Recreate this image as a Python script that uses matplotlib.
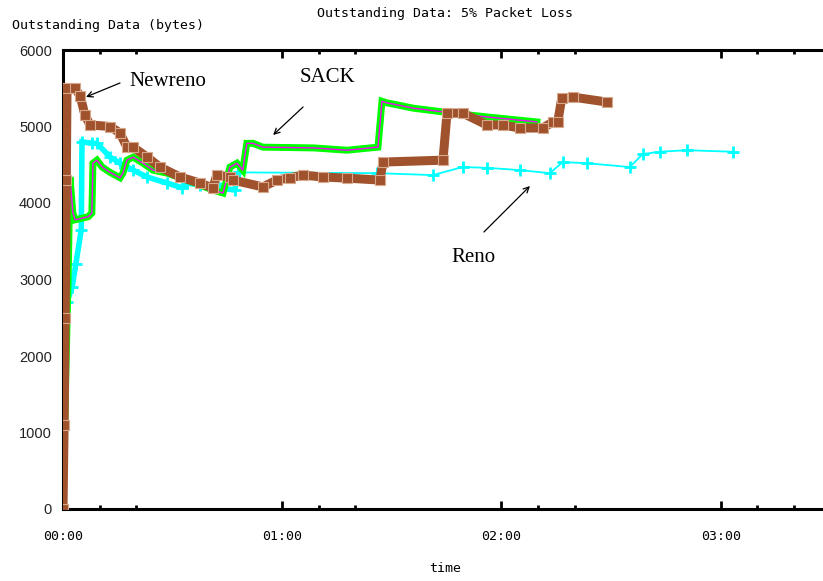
import matplotlib
matplotlib.use("Agg")
import matplotlib.pyplot as plt
from matplotlib.ticker import FixedLocator

# Elapsed time (s) and outstanding data (bytes) per TCP variant
newreno_t = [0, 0.3, 0.6, 0.9, 1.1, 3.3, 4.7, 6.0, 7.4, 12.9, 15.6, 17.5, 19.2, 23.0, 26.5,
             32.0, 37.5, 41.0, 42.1, 45.7, 46.5, 54.7, 58.6, 62.1, 65.7, 71.1, 77.7, 86.7,
             87.6, 104.0, 105.1, 109.4, 116.0, 120.4, 125.0, 131.3, 134.1, 135.4, 136.5,
             139.5, 148.8]
newreno_v = [0, 1100, 2500, 4300, 5500, 5500, 5400, 5150, 5020, 5000, 4915, 4730, 4730, 4600,
             4470, 4340, 4260, 4195, 4365, 4340, 4300, 4210, 4300, 4330, 4365, 4340, 4325,
             4300, 4535, 4560, 5175, 5175, 5020, 5020, 4980, 4980, 5060, 5060, 5370, 5385,
             5320]

sack_t = [0, 0.8, 1.4, 1.9, 2.7, 3.3, 6.9, 7.9, 8.2, 9.3, 10.7, 12.9, 15.6, 16.4, 17.5, 19.2,
          21.9, 24.6, 28.5, 33.9, 41.0, 43.8, 45.7, 47.6, 49.2, 50.3, 52.0, 54.7, 68.7, 77.7,
          86.2, 87.3, 88.6, 95.8, 106.6, 116.0, 129.7]
sack_v = [0, 1800, 3000, 4340, 3870, 3780, 3820, 3870, 4520, 4560, 4470, 4400, 4330, 4390,
          4560, 4600, 4520, 4430, 4390, 4300, 4170, 4130, 4470, 4520, 4430, 4780, 4780, 4730,
          4720, 4690, 4730, 5330, 5310, 5240, 5175, 5125, 5060]

reno_t = [0, 1.0, 2.5, 3.5, 5.0, 5.2, 7.9, 9.3, 12.9, 15.6, 19.2, 23.0, 28.5, 32.6, 33.9,
          37.5, 42.9, 47.0, 48.2, 86.0, 101.2, 109.4, 116.0, 125.0, 133.2, 136.8, 143.4,
          155.1, 158.7, 163.3, 170.7, 183.3]
reno_v = [0, 2700, 2900, 3200, 3650, 4800, 4780, 4780, 4600, 4520, 4430, 4340, 4260, 4200,
          4260, 4235, 4195, 4170, 4400, 4390, 4365, 4470, 4460, 4430, 4390, 4535, 4520,
          4470, 4640, 4670, 4690, 4670]

x_major = [0, 60, 120, 180]
x_major_labels = ["00:00", "01:00", "02:00", "03:00"]
x_minor = [10, 20, 70, 80, 130, 140, 190, 200]
y_ticks = [0, 1000, 2000, 3000, 4000, 5000, 6000]

MONO = "DejaVu Sans Mono"

fig = plt.figure(figsize=(8.23, 5.81), dpi=100)
ax = fig.add_axes([63 / 823, 72 / 581, 760 / 823, 459 / 581])

# Reno: dense early burst drawn heavier, then thin line with plus markers
split = 19
ax.plot(reno_t[:split], reno_v[:split], color="#00ffff", lw=4, marker="+", ms=8, mew=2,
        solid_joinstyle="miter", zorder=2)
ax.plot(reno_t[split - 1:], reno_v[split - 1:], color="#00ffff", lw=1.3, marker="+", ms=8,
        mew=2, zorder=2)

# SACK: green band with magenta trace
ax.plot(sack_t, sack_v, color="#00ff00", lw=5, solid_joinstyle="miter", zorder=3)
ax.plot(sack_t, sack_v, color="#ff00ff", lw=1.0, zorder=4)

# Newreno: thick brown line with square markers
ax.plot(newreno_t, newreno_v, color="#a0522d", lw=6.5, marker="s", ms=6.5, mfc="#a0522d",
        mec="#d8a88c", mew=0.8, solid_joinstyle="miter", zorder=5)

ax.set_xlim(0, 208)
ax.set_ylim(0, 6000)

ax.xaxis.set_major_locator(FixedLocator(x_major))
ax.xaxis.set_minor_locator(FixedLocator(x_minor))
ax.set_xticklabels(x_major_labels, fontfamily=MONO, fontsize=9.5)
ax.set_yticks(y_ticks)
ax.set_yticklabels([str(v) for v in y_ticks], fontfamily="Liberation Sans", fontsize=10.5)

ax.tick_params(axis="x", which="major", direction="in", length=6, width=2, top=True,
               pad=15, colors="black")
ax.tick_params(axis="x", which="minor", direction="in", length=3, width=2, top=True)
ax.tick_params(axis="y", which="major", direction="in", length=3, width=2, pad=8)
ax.tick_params(axis="y", labelcolor="#222222")

for side in ("left", "bottom", "top"):
    ax.spines[side].set_linewidth(2.2)
    ax.spines[side].set_color("black")
ax.spines["right"].set_visible(False)

fig.text(445 / 823, 1 - 14 / 581, "Outstanding Data: 5% Packet Loss", ha="center",
         va="center", fontfamily=MONO, fontsize=9.5)
fig.text(12 / 823, 1 - 26 / 581, "Outstanding Data (bytes)", ha="left", va="center",
         fontfamily=MONO, fontsize=9.5)
fig.text(445 / 823, 1 - 568 / 581, "time", ha="center", va="center", fontfamily=MONO,
         fontsize=9.5)

arrow = dict(arrowstyle="->", color="black", lw=0.9, shrinkA=0, shrinkB=0)
serif = dict(fontfamily="Liberation Serif", fontsize=15, color="black")

ax.annotate("", xy=(6.3, 5386), xytext=(15.6, 5569), arrowprops=arrow)
ax.text(18.3, 5582, "Newreno", ha="left", va="center", **serif)

ax.annotate("", xy=(57.5, 4889), xytext=(65.7, 5255), arrowprops=arrow)
ax.text(64.8, 5634, "SACK", ha="left", va="center", **serif)

ax.annotate("", xy=(127.8, 4222), xytext=(115.2, 3621), arrowprops=arrow)
ax.text(106.4, 3294, "Reno", ha="left", va="center", **serif)

fig.savefig("out.png", dpi=100)
